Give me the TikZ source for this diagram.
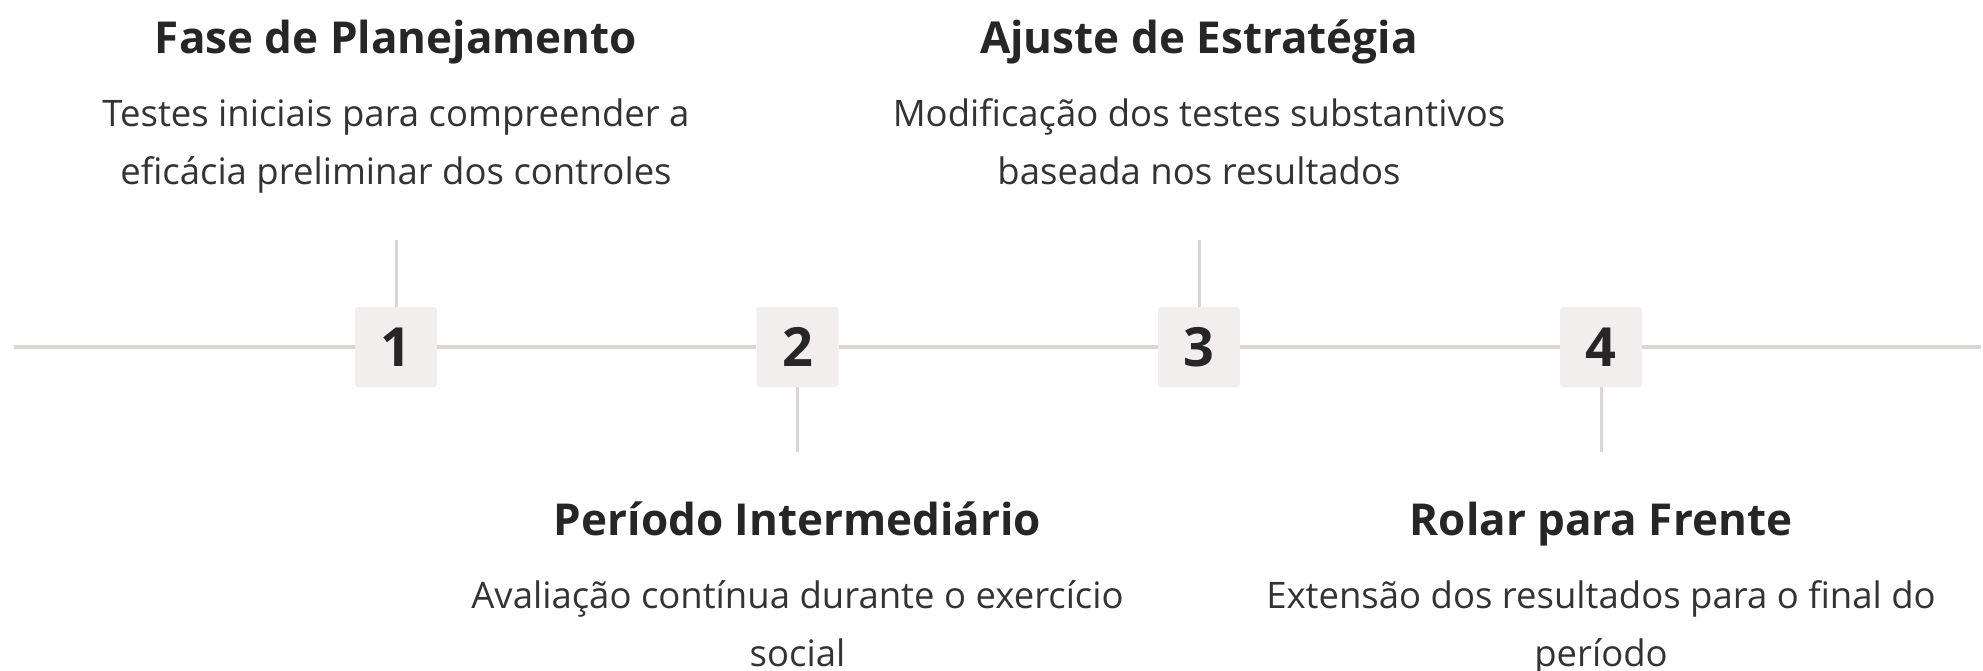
\documentclass[tikz,border=0pt]{standalone}
\usepackage{fontspec}
\setmainfont{Open Sans}
\definecolor{linegray}{HTML}{D9D6D4}
\definecolor{boxfill}{HTML}{F1EEED}
\definecolor{txt}{HTML}{262626}
\definecolor{desc}{HTML}{333333}
\begin{document}
\begin{tikzpicture}[x=1pt,y=-1pt,
  numbox/.style={fill=boxfill, rounded corners=3pt, minimum width=82pt, minimum height=80pt, inner sep=0pt,
    font=\fontsize{54}{54}\selectfont\bfseries, text=txt},
  ttl/.style={anchor=base, inner sep=0pt, font=\fontsize{44}{50}\selectfont\bfseries, text=txt},
  dsc/.style={anchor=base, inner sep=0pt, align=center, font=\fontsize{36.5}{58}\selectfont, text=desc},
  tl/.style={draw=linegray, line width=4pt},
  vl/.style={draw=linegray, line width=3pt}]
\useasboundingbox (0,0) rectangle (1983,671);
\coordinate (L) at (14,347);
\coordinate (R) at (1981,347);
\node[numbox] (b1) at (396,347) {1};
\node[numbox] (b2) at (797.5,347) {2};
\node[numbox] (b3) at (1199,347) {3};
\node[numbox] (b4) at (1601,347) {4};
\draw[tl] (L) -- (b1.west);
\draw[tl] (b1.east) -- (b2.west);
\draw[tl] (b2.east) -- (b3.west);
\draw[tl] (b3.east) -- (b4.west);
\draw[tl] (b4.east) -- (R);
\coordinate (u1) at (396,240);
\coordinate (d2) at (797.5,452);
\coordinate (u3) at (1199,240);
\coordinate (d4) at (1601,452);
\draw[vl] (b1.north) -- (u1);
\draw[vl] (b2.south) -- (d2);
\draw[vl] (b3.north) -- (u3);
\draw[vl] (b4.south) -- (d4);
\node[ttl] (t1) at (396,54) {Fase de Planejamento};
\node[dsc] (s1) at (396,185) {Testes iniciais para compreender a\\eficácia preliminar dos controles};
\node[ttl] (t3) at (1199,54) {Ajuste de Estratégia};
\node[dsc] (s3) at (1199,185) {Modificação dos testes substantivos\\baseada nos resultados};
\node[ttl] (t2) at (797.5,535) {Período Intermediário};
\node[dsc] (s2) at (797.5,666) {Avaliação contínua durante o exercício\\social};
\node[ttl] (t4) at (1601,535) {Rolar para Frente};
\node[dsc] (s4) at (1601,666) {Extensão dos resultados para o final do\\período};
\end{tikzpicture}
\end{document}
